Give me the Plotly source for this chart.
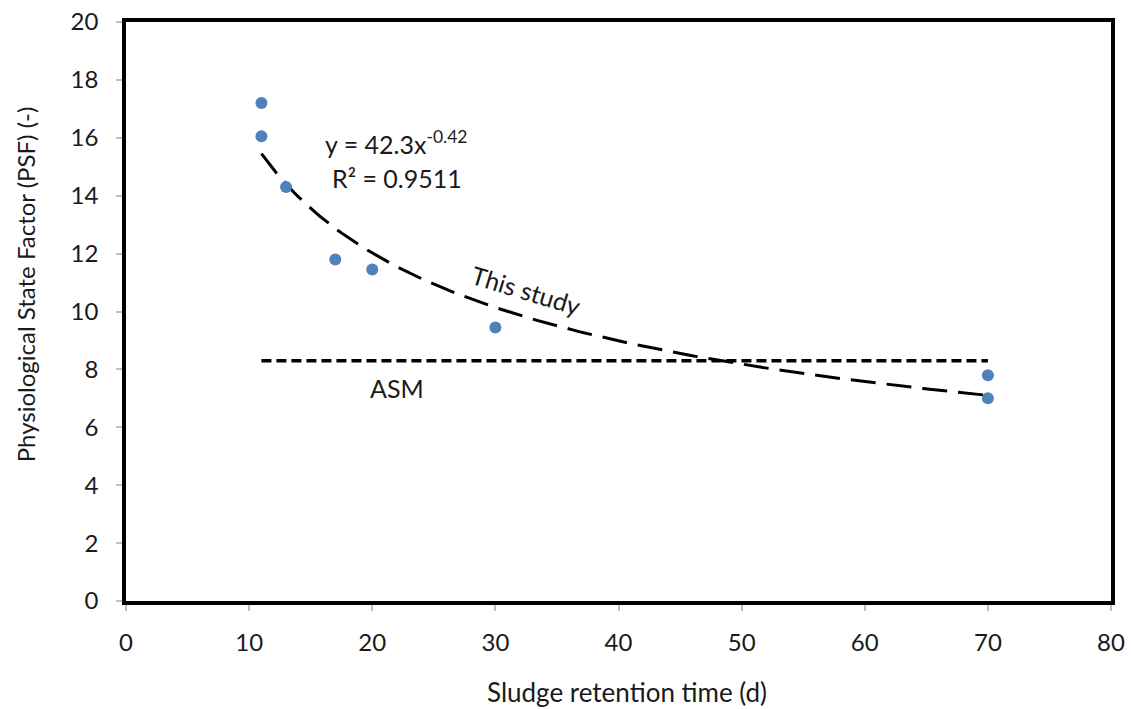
import numpy as np
import plotly.graph_objects as go

srt = [11, 11, 13, 17, 20, 30, 70, 70]
psf = [17.2, 16.05, 14.3, 11.8, 11.45, 9.45, 7.8, 7.0]

fit_a = 42.3
fit_b = -0.42
fit_x_range = [11, 70]

asm_x = [11, 70]
asm_y = [8.3, 8.3]

x_ticks = [0, 10, 20, 30, 40, 50, 60, 70, 80]
y_ticks = [0, 2, 4, 6, 8, 10, 12, 14, 16, 18, 20]

fx = np.linspace(fit_x_range[0], fit_x_range[1], 200)
fy = fit_a * fx ** fit_b

FONT = "Lato, 'Open Sans', sans-serif"
TXT = "#1a1a1a"

fig = go.Figure()
fig.add_trace(go.Scatter(x=fx, y=fy, mode="lines",
                         line=dict(color="black", width=3, dash="25px,11px"),
                         showlegend=False, hoverinfo="skip"))
fig.add_trace(go.Scatter(x=asm_x, y=asm_y, mode="lines",
                         line=dict(color="black", width=3.5, dash="10px,5px"),
                         showlegend=False))
fig.add_trace(go.Scatter(x=srt, y=psf, mode="markers",
                         marker=dict(color="#4F81BD", size=12),
                         showlegend=False))

fig.add_annotation(x=22.0, y=15.85, text="y = 42.3x<sup>-0.42</sup>", showarrow=False,
                   font=dict(family=FONT, size=25, color=TXT))
fig.add_annotation(x=22.0, y=14.6, text="R² = 0.9511", showarrow=False,
                   font=dict(family=FONT, size=25, color=TXT))
fig.add_annotation(x=32.5, y=10.75, text="This study", showarrow=False, textangle=17,
                   font=dict(family=FONT, size=25, color=TXT))
fig.add_annotation(x=22.0, y=7.35, text="ASM", showarrow=False,
                   font=dict(family=FONT, size=25, color=TXT))

# axis titles
fig.add_annotation(xref="paper", yref="paper", x=0.5086, y=0, yshift=-91,
                   text="Sludge retention time (d)", showarrow=False,
                   xanchor="center", yanchor="middle",
                   font=dict(family=FONT, size=26, color=TXT))
fig.add_annotation(xref="paper", yref="paper", x=0, y=0.547, xshift=-101,
                   text="Physiological State Factor (PSF) (-)", showarrow=False,
                   textangle=-90, xanchor="center", yanchor="middle",
                   font=dict(family=FONT, size=24, color=TXT))

axis_common = dict(showgrid=False, zeroline=False, showline=True, linecolor="black",
                   linewidth=3.5, mirror=True, ticks="outside", ticklen=6,
                   tickcolor="#bfbfbf", tickwidth=1.5, automargin=False,
                   tickfont=dict(family=FONT, size=24, color=TXT))

fig.update_xaxes(range=[0, 80], tickvals=x_ticks, ticklabelstandoff=11, **axis_common)
fig.update_yaxes(range=[0, 20], tickvals=y_ticks, ticklabelstandoff=13, **axis_common)

fig.update_layout(width=1131, height=709, plot_bgcolor="white", paper_bgcolor="white",
                  margin=dict(l=126, r=20, t=22, b=108))

fig.write_html("out.html")
